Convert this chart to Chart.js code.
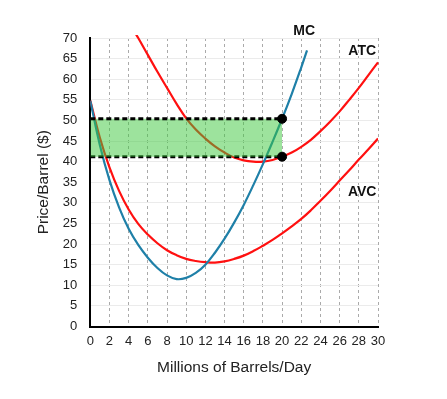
<!DOCTYPE html>
<html>
<head>
<meta charset="utf-8">
<script src="https://cdn.jsdelivr.net/npm/chart.js@4.4.1/dist/chart.umd.min.js"></script>
<style>
  body { margin: 0; background: #fff; }
</style>
</head>
<body>
<canvas id="myChart" width="447" height="399"></canvas>
<script>
// quantities (millions of barrels/day) and the cost curves
var qty = [0,1,2,3,4,5,6,7,8,9,10,11,12,13,14,15,16,17,18,19,20,21,22,23,24,25,26,27,28,29,30];
var mcQty = [0,1,2,3,4,5,6,7,8,9,10,11,12,13,14,15,16,17,18,19,20,21,22,22.6];
var mcValues = [54.8,44.0,35.5,28.9,23.7,19.8,16.7,14.2,12.4,11.5,11.8,13.0,15.0,17.9,21.3,25.2,29.5,34.3,39.4,44.8,50.4,56.4,62.9,67.0];
var avcValues = [54.8,45.8,38.6,32.9,28.4,24.9,22.3,20.2,18.5,17.3,16.4,15.9,15.6,15.5,15.8,16.4,17.2,18.3,19.6,21.0,22.6,24.3,26.1,28.2,30.5,32.9,35.4,37.9,40.5,43.0,45.6];
var atcQty = [4.6,5,6,7,8,9,10,11,12,13,14,15,16,17,18,19,20,21,22,23,24,25,26,27,28,29,30];
var atcValues = [71.5,70.0,65.9,61.8,57.9,54.0,50.5,47.8,45.6,43.7,42.2,41.0,40.3,40.0,40.0,40.4,41.2,42.2,43.6,45.3,47.4,49.7,52.2,55.0,57.9,61.0,64.1];

// profit box: output, price and ATC at that output
var boxQty = [0, 20];
var priceValues = [50.4, 50.4];
var atcAtQ = [41.2, 41.2];

var curveLabels = ['MC', 'ATC', 'AVC'];

function pts(xs, ys) {
    return xs.map(function(x, i) { return {x: x, y: ys[i]}; });
}

var FONT = '"Liberation Sans", Arial, Helvetica, sans-serif';

var labelPlugin = {
    id: 'curveLabels',
    afterDatasetsDraw: function(chart) {
        var ctx = chart.ctx;
        var xs = chart.scales.x, ys = chart.scales.y;
        var spots = [[22.3, 71.6], [28.35, 66.7], [28.35, 32.6]];
        ctx.save();
        ctx.font = 'bold 14px ' + FONT;
        ctx.fillStyle = '#111';
        ctx.textAlign = 'center';
        ctx.textBaseline = 'middle';
        curveLabels.forEach(function(t, i) {
            ctx.fillText(t, xs.getPixelForValue(spots[i][0]), ys.getPixelForValue(spots[i][1]));
        });
        ctx.restore();
    }
};

new Chart('myChart', {
    type: 'line',
    data: {
        datasets: [
            {   // 0 price line, filled down to ATC line
                data: pts(boxQty, priceValues),
                borderColor: '#000', borderWidth: 3, borderDash: [5, 3],
                pointRadius: 0, tension: 0,
                backgroundColor: 'rgba(60,200,60,0.5)',
                fill: {target: 1},
                order: 1
            },
            {   // 1 ATC at chosen output
                data: pts(boxQty, atcAtQ),
                borderColor: '#000', borderWidth: 3, borderDash: [5, 3],
                pointRadius: 0, tension: 0, fill: false,
                order: 1
            },
            {
                label: 'MC',
                data: pts(mcQty, mcValues),
                borderColor: '#1f80a8', borderWidth: 2.2,
                pointRadius: 0, tension: 0.4, fill: false,
                order: 2
            },
            {
                label: 'ATC',
                data: pts(atcQty, atcValues),
                borderColor: '#ff1010', borderWidth: 2.2,
                pointRadius: 0, tension: 0.4, fill: false,
                clip: 3,
                order: 2
            },
            {
                label: 'AVC',
                data: pts(qty, avcValues),
                borderColor: '#ff1010', borderWidth: 2.2,
                pointRadius: 0, tension: 0.4, fill: false,
                order: 2
            },
            {   // dots where price and ATC meet the output
                data: [{x: boxQty[1], y: priceValues[1]}, {x: boxQty[1], y: atcAtQ[1]}],
                showLine: false,
                pointRadius: 4.5, pointBackgroundColor: '#000', pointBorderColor: '#000',
                order: 0
            }
        ]
    },
    options: {
        responsive: false,
        animation: false,
        devicePixelRatio: 1,
        layout: { padding: { left: 30, right: 69, top: 38, bottom: 18 } },
        plugins: {
            legend: { display: false },
            tooltip: { enabled: false }
        },
        scales: {
            x: {
                type: 'linear', min: 0, max: 30,
                afterFit: function(scale) { scale.height = 54.5; },
                ticks: { stepSize: 2, padding: 7, color: '#222', autoSkip: false,
                         maxRotation: 0, minRotation: 0, font: { family: FONT, size: 13 } },
                grid: {
                    drawTicks: false,
                    color: function(c) { return c.index === 0 ? 'rgba(0,0,0,0)' : '#aaa'; }
                },
                border: { color: '#000', width: 2, dash: [3, 3] },
                title: { display: true, text: 'Millions of Barrels/Day', color: '#222',
                         font: { family: FONT, size: 15.5 }, padding: { top: 9, bottom: 4 } }
            },
            y: {
                min: 0, max: 70,
                afterFit: function(scale) { scale.width = 60.3; },
                ticks: { stepSize: 5, padding: 13, color: '#222', font: { family: FONT, size: 13 } },
                grid: {
                    drawTicks: false,
                    color: function(c) { return c.index === 0 ? 'rgba(0,0,0,0)' : '#ebebeb'; }
                },
                border: { color: '#000', width: 2 },
                title: { display: true, text: 'Price/Barrel ($)', color: '#222',
                         font: { family: FONT, size: 15.5 }, padding: { top: 4, bottom: 10 } }
            }
        }
    },
    plugins: [labelPlugin]
});
</script>
</body>
</html>
